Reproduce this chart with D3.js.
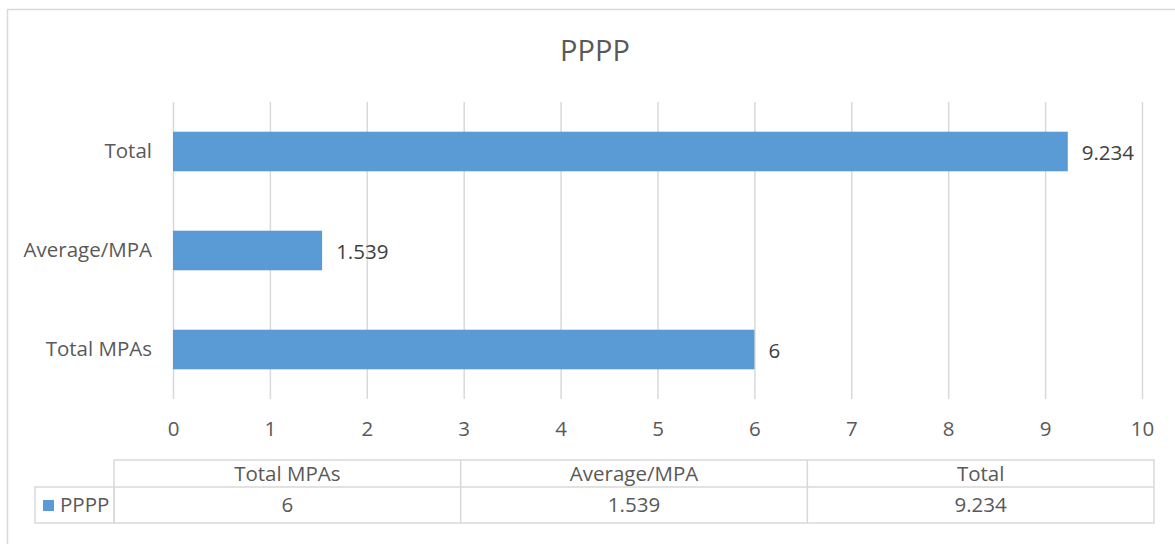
<!DOCTYPE html>
<html>
<head>
<meta charset="utf-8">
<script src="https://cdn.jsdelivr.net/npm/d3@7"></script>
<style>
  body { margin: 0; background: #fff; }
  svg { display: block; font-family: "Open Sans", Lato, sans-serif; }
</style>
</head>
<body>
<svg width="1175" height="544"></svg>
<script>
const categories = ["Total MPAs", "Average/MPA", "Total"];
const values = [6, 1.539, 9.234];
const valueLabels = ["6", "1.539", "9.234"];
const seriesName = "PPPP";
const title = "PPPP";

var svg = d3.select("svg");
var textColor = "#595959";
var gridColor = "#d9d9d9";
var barColor = "#5b9bd5";
var fs = 20.5;

// chart frame (right and bottom edges fall outside the picture)
svg.append("rect")
    .attr("x", 7.5).attr("y", 9.5)
    .attr("width", 1200).attr("height", 560)
    .attr("fill", "none")
    .attr("stroke", gridColor)
    .attr("stroke-width", 1.5);

svg.append("text")
    .attr("x", 595).attr("y", 61)
    .attr("text-anchor", "middle")
    .attr("font-size", 29)
    .attr("fill", textColor)
    .text(title);

var x = d3.scaleLinear().domain([0, 10]).range([173, 1142]);
var y = d3.scaleBand()
    .domain(categories.slice().reverse())
    .range([102, 399])
    .paddingInner(0.6)
    .paddingOuter(0.3);

// gridlines
svg.append("g")
    .selectAll("line")
    .data(x.ticks(10))
    .enter().append("line")
    .attr("x1", d => x(d) + 0.5).attr("x2", d => x(d) + 0.5)
    .attr("y1", 102).attr("y2", 399)
    .attr("stroke", gridColor)
    .attr("stroke-width", 1.5);

// bars
var rows = categories.map((c, i) => ({cat: c, value: values[i], label: valueLabels[i]}));

svg.append("g")
    .selectAll("rect")
    .data(rows)
    .enter().append("rect")
    .attr("x", x(0))
    .attr("y", d => y(d.cat))
    .attr("width", d => x(d.value) - x(0))
    .attr("height", y.bandwidth())
    .attr("fill", barColor);

svg.append("g")
    .selectAll("text")
    .data(rows)
    .enter().append("text")
    .attr("x", d => x(d.value) + 14)
    .attr("y", d => y(d.cat) + y.bandwidth() / 2 + 1)
    .attr("dy", "0.35em")
    .attr("font-size", fs)
    .attr("fill", "#404040")
    .text(d => d.label);

// category axis
var yAxis = svg.append("g")
    .attr("transform", "translate(173,0)")
    .call(d3.axisLeft(y).tickSize(0).tickPadding(21))
    .attr("font-family", null)
    .attr("font-size", fs);
yAxis.select(".domain").remove();
yAxis.selectAll("text").attr("fill", textColor);

// value axis
var xAxis = svg.append("g")
    .attr("transform", "translate(0,399)")
    .call(d3.axisBottom(x).ticks(10).tickSize(0).tickPadding(22))
    .attr("font-family", null)
    .attr("font-size", fs);
xAxis.select(".domain").remove();
xAxis.selectAll("text").attr("fill", textColor);

// data table
var col = d3.scaleBand().domain(categories).range([114, 1154]);
var tTop = 460, tMid = 487, tBot = 523, legLeft = 35;
var table = svg.append("g")
    .attr("stroke", gridColor)
    .attr("stroke-width", 1.5)
    .attr("fill", "none");

table.append("rect")
    .attr("x", col.range()[0]).attr("y", tTop)
    .attr("width", col.range()[1] - col.range()[0]).attr("height", tBot - tTop);
table.append("rect")
    .attr("x", legLeft).attr("y", tMid)
    .attr("width", col.range()[0] - legLeft).attr("height", tBot - tMid);
table.append("line")
    .attr("x1", col.range()[0]).attr("x2", col.range()[1])
    .attr("y1", tMid).attr("y2", tMid);
table.selectAll("line.sep")
    .data(categories.slice(1))
    .enter().append("line")
    .attr("class", "sep")
    .attr("x1", d => col(d)).attr("x2", d => col(d))
    .attr("y1", tTop).attr("y2", tBot);

var cells = svg.append("g")
    .attr("font-size", fs)
    .attr("fill", textColor)
    .attr("text-anchor", "middle");

cells.selectAll("text.head")
    .data(categories)
    .enter().append("text")
    .attr("class", "head")
    .attr("x", d => col(d) + col.bandwidth() / 2)
    .attr("y", (tTop + tMid) / 2)
    .attr("dy", "0.35em")
    .text(d => d);

cells.selectAll("text.val")
    .data(rows)
    .enter().append("text")
    .attr("class", "val")
    .attr("x", d => col(d.cat) + col.bandwidth() / 2)
    .attr("y", (tMid + tBot) / 2)
    .attr("dy", "0.35em")
    .text(d => d.label);

// legend key in table
svg.append("rect")
    .attr("x", 43).attr("y", 500)
    .attr("width", 11).attr("height", 11)
    .attr("fill", barColor);
svg.append("text")
    .attr("x", 60).attr("y", (tMid + tBot) / 2)
    .attr("dy", "0.35em")
    .attr("font-size", fs)
    .attr("fill", textColor)
    .text(seriesName);
</script>
</body>
</html>
